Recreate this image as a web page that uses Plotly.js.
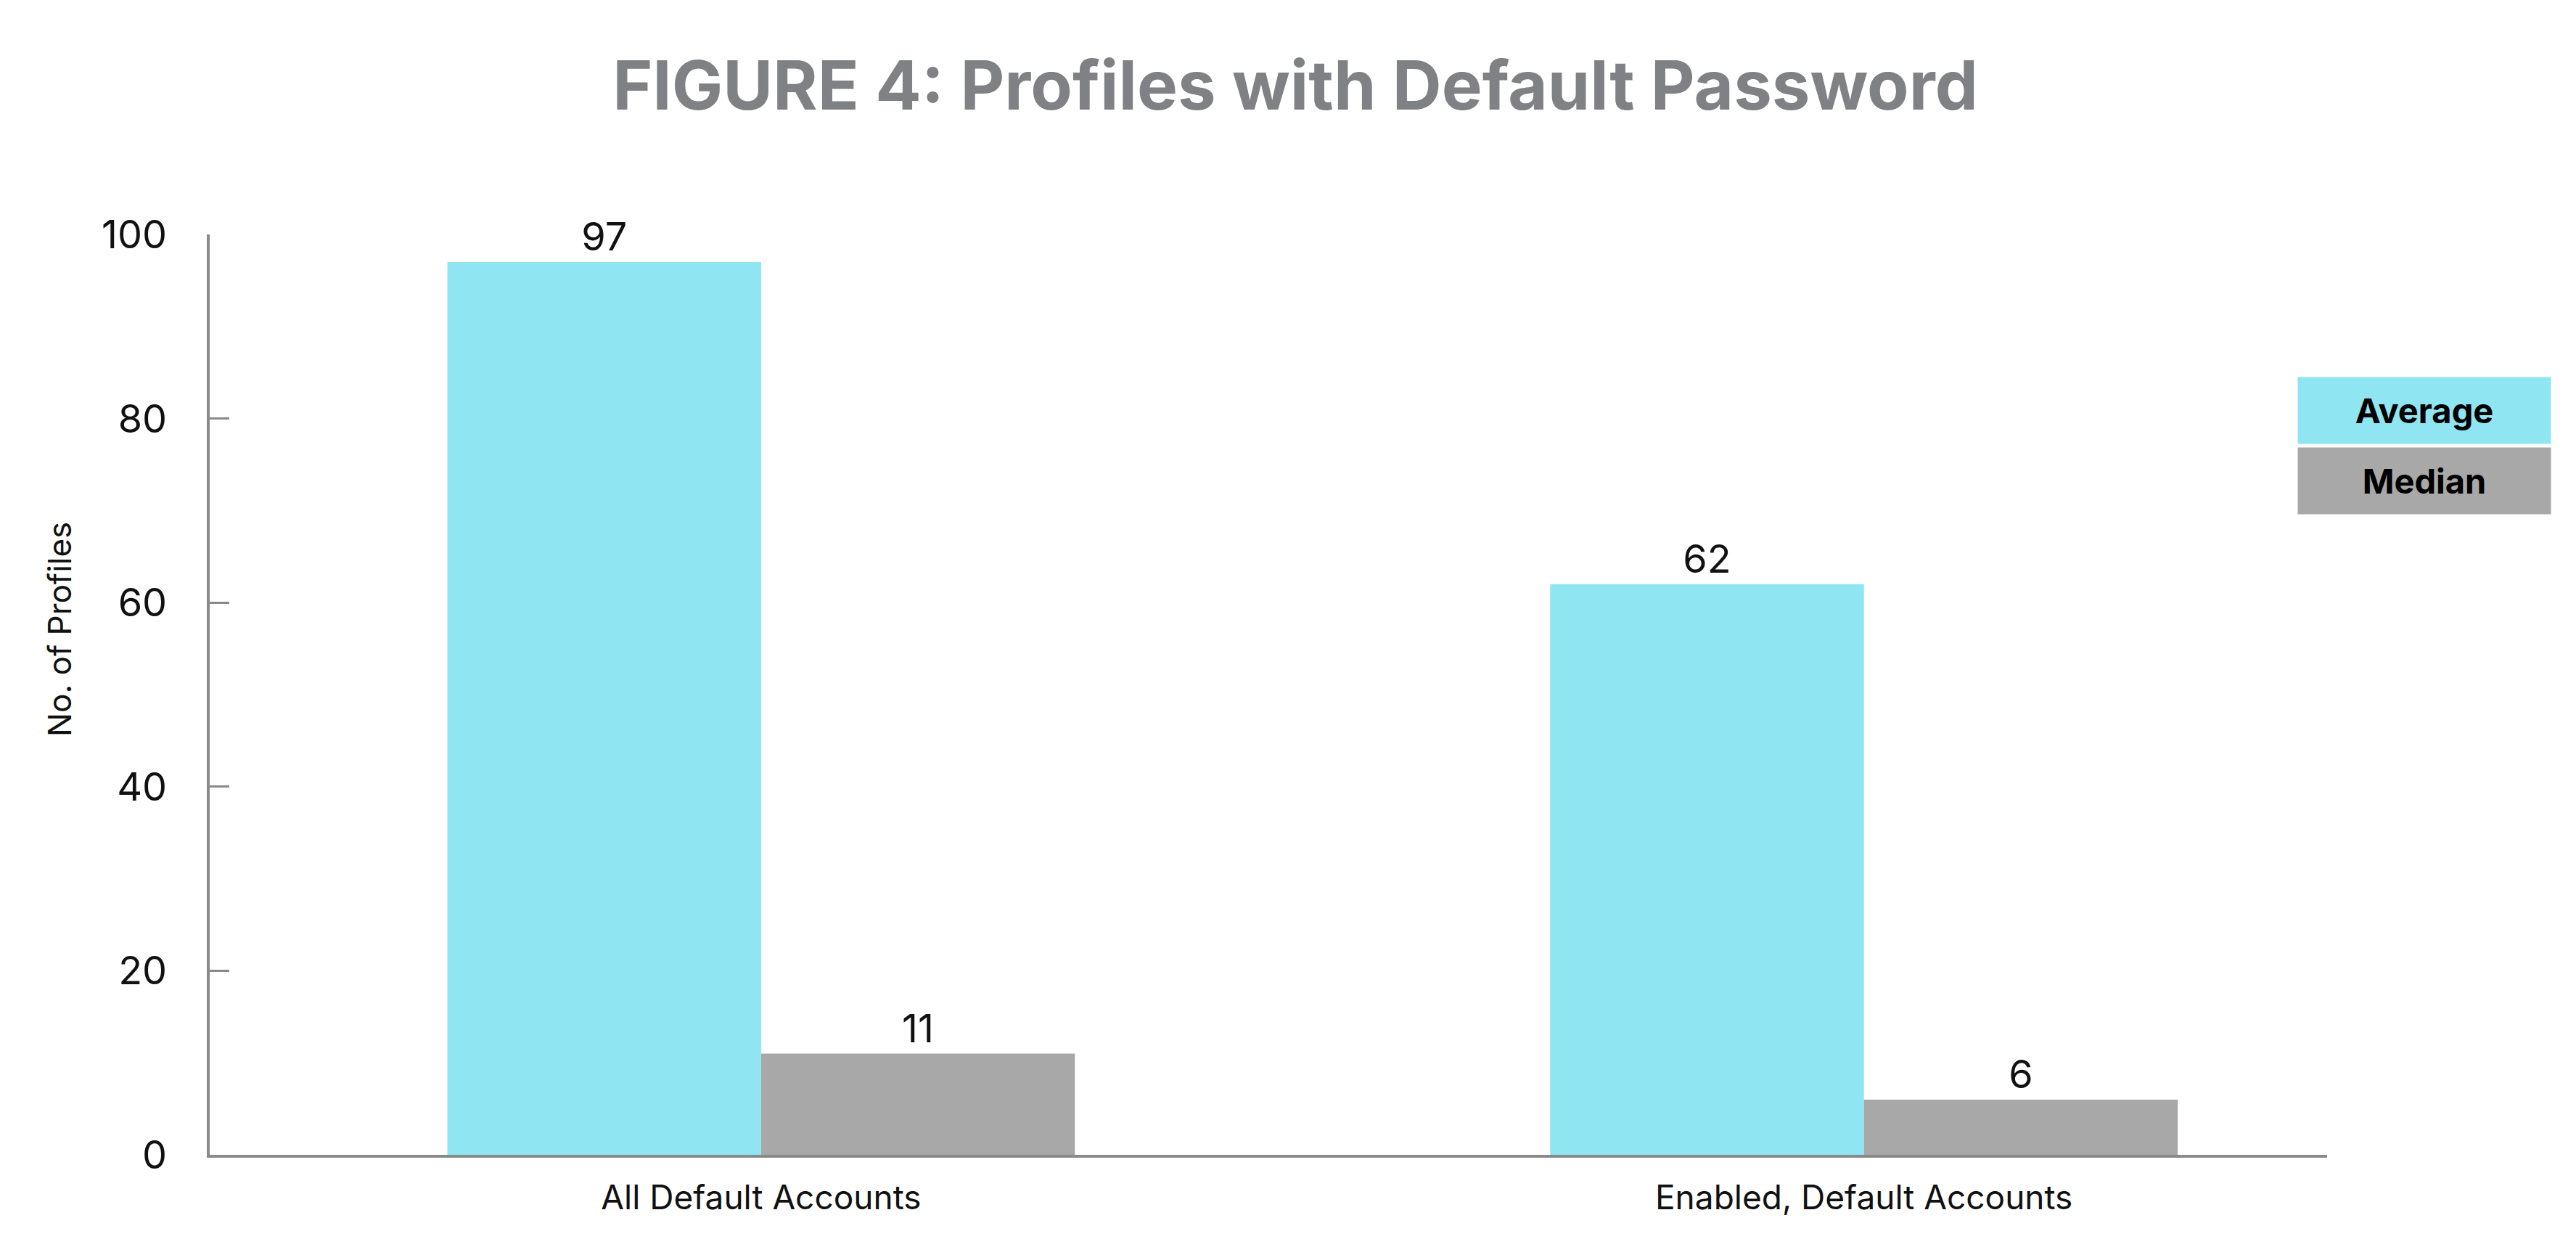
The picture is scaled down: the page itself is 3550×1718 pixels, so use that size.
<!DOCTYPE html>
<html>
<head>
<meta charset="utf-8">
<script src="https://cdn.plot.ly/plotly-3.0.1.min.js"></script>
<style>html,body{margin:0;padding:0;background:#fff;}</style>
</head>
<body>
<div id="chart" style="width:3550px;height:1718px;"></div>
<script>
const categories = ["All Default Accounts", "Enabled, Default Accounts"];
const seriesNames = ["Average", "Median"];
const averageValues = [97, 62];
const medianValues = [11, 6];
const yTickValues = [0, 20, 40, 60, 80, 100];
const yAxisTitle = "No. of Profiles";
const chartTitle = "FIGURE 4: Profiles with Default Password";

const FONT = "Inter, 'Noto Sans', sans-serif";
const colors = ["#8fe5f1", "#a8a8a8"];
const seriesValues = [averageValues, medianValues];

const traces = seriesNames.map((name, i) => ({
  type: 'bar',
  name: name,
  x: categories,
  y: seriesValues[i],
  marker: {color: colors[i], line: {width: 0}},
  text: seriesValues[i].map(String),
  textposition: 'outside',
  constraintext: 'none',
  cliponaxis: false,
  textfont: {family: FONT, size: 54, color: '#111'},
  hoverinfo: 'none'
}));

const legendY = [0.809, 0.732];
const annotations = seriesNames.map((name, i) => ({
  xref: 'paper', yref: 'paper',
  x: 1.046, y: legendY[i],
  xanchor: 'center', yanchor: 'middle',
  text: '<b>' + name + '</b>',
  showarrow: false,
  bgcolor: colors[i],
  width: 348, height: 91,
  borderpad: 0,
  font: {family: FONT, size: 47, color: '#000', weight: 800}
}));
annotations.push({
  xref: 'paper', yref: 'paper',
  x: -0.0709, y: 0.571,
  xanchor: 'center', yanchor: 'middle',
  text: yAxisTitle, textangle: -90,
  showarrow: false,
  font: {family: FONT, size: 44, color: '#111'}
});

const layout = {
  width: 3550, height: 1718,
  paper_bgcolor: '#ffffff', plot_bgcolor: '#ffffff',
  margin: {l: 289, r: 343, t: 323, b: 127},
  showlegend: false,
  barmode: 'group',
  bargap: 0.431,
  bargroupgap: 0,
  title: {
    text: '<b>' + chartTitle + '</b>',
    font: {family: FONT, size: 94, color: '#808184', weight: 800},
    x: 0.5127, xanchor: 'center', xref: 'paper',
    y: 0.931, yref: 'container', yanchor: 'middle'
  },
  xaxis: {
    type: 'category',
    range: [-0.5, 1.42],
    showline: true, linecolor: '#898989', linewidth: 4,
    ticks: '', showgrid: false, zeroline: false,
    tickfont: {family: FONT, size: 46, color: '#111'},
    ticklabelstandoff: 16
  },
  yaxis: {
    range: [0, 100],
    tickvals: yTickValues,
    ticktext: yTickValues.map(String),
    showline: true, linecolor: '#898989', linewidth: 4,
    ticks: 'inside', ticklen: 27, tickwidth: 3, tickcolor: '#898989',
    showgrid: false, zeroline: false,
    tickfont: {family: FONT, size: 54, color: '#111'},
    ticklabelstandoff: 44
  },
  annotations: annotations
};

Plotly.newPlot('chart', traces, layout, {staticPlot: true, displayModeBar: false});
</script>
</body>
</html>
